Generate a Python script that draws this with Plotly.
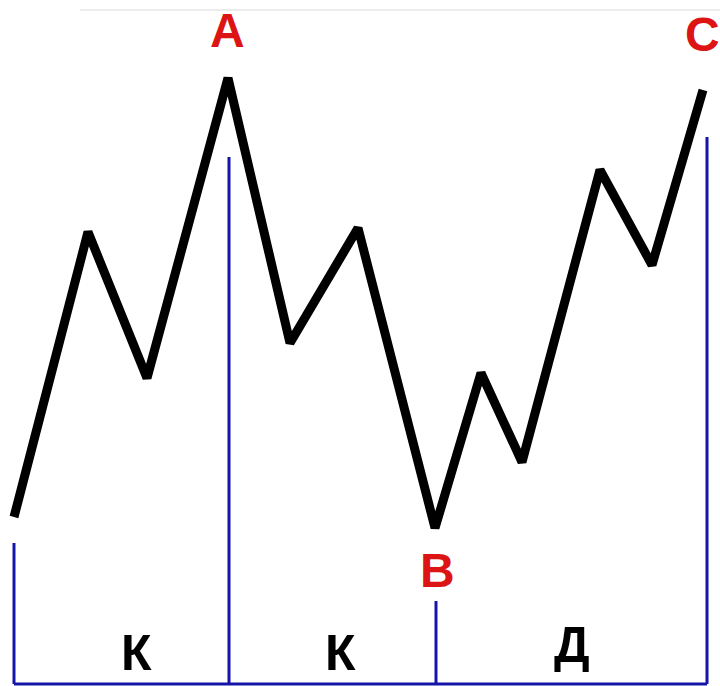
import plotly.graph_objects as go

# Zigzag price path: horizontal position and level (higher = up)
path_x = [14, 88, 147, 228, 290, 358, 435, 481, 522, 600, 652, 703]
path_y = [169, 454, 308, 608, 343, 458, 158, 313, 224, 516, 421, 596]

# Vertical markers and their tops
marker_x = [14, 229, 436, 707]
marker_top = [143, 529, 85, 549]
baseline = 2

# Point labels (red) and segment labels (black)
point_labels = ["A", "B", "C"]
point_x = [227, 437, 702]
point_y = [656, 116, 652]
segment_labels = ["К", "К", "Д"]
segment_x = [136, 340, 572]
segment_y = [33, 33, 41]

fig = go.Figure()

BLUE = "#1515a8"
for mx, mt in zip(marker_x, marker_top):
    fig.add_trace(go.Scatter(x=[mx, mx], y=[baseline, mt], mode="lines",
                             line=dict(color=BLUE, width=3), hoverinfo="skip"))
fig.add_trace(go.Scatter(x=[marker_x[0], marker_x[-1]], y=[baseline, baseline], mode="lines",
                         line=dict(color=BLUE, width=3), hoverinfo="skip"))

fig.add_trace(go.Scatter(x=path_x, y=path_y, mode="lines",
                         line=dict(color="black", width=9), hoverinfo="skip"))

# faint top rule
fig.add_shape(type="line", x0=80, x1=720, y0=676, y1=676,
              line=dict(color="#ececec", width=2), layer="below")

NARROW = "Liberation Sans Narrow, Liberation Sans, Arial"
for t, x, y in zip(point_labels, point_x, point_y):
    fig.add_annotation(x=x, y=y, text=f"<b>{t}</b>", showarrow=False,
                       font=dict(family=NARROW, size=48, color="#dc1414"))
for t, x, y in zip(segment_labels, segment_x, segment_y):
    fig.add_annotation(x=x, y=y, text=f"<b>{t}</b>", showarrow=False,
                       font=dict(family=NARROW, size=50, color="black"))

fig.update_layout(
    width=720, height=686, margin=dict(l=0, r=0, t=0, b=0),
    paper_bgcolor="white", plot_bgcolor="white", showlegend=False,
    xaxis=dict(range=[0, 720], visible=False, fixedrange=True),
    yaxis=dict(range=[0, 686], visible=False, fixedrange=True),
)

fig.write_html("out.html")
